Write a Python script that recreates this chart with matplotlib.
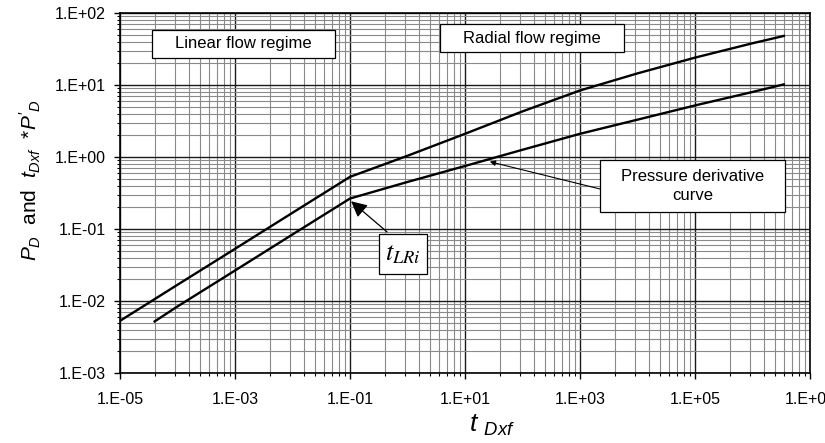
import numpy as np
import matplotlib
matplotlib.use("Agg")
import matplotlib.pyplot as plt
import matplotlib.ticker as ticker
from matplotlib.patches import Rectangle

plt.rcParams["font.family"] = ["Liberation Sans", "DejaVu Sans"]
plt.rcParams["mathtext.fontset"] = "custom"
plt.rcParams["mathtext.it"] = "Liberation Sans:italic"
plt.rcParams["mathtext.rm"] = "Liberation Sans"

# dimensionless pressure P_D vs t_Dxf
t_pd = [1e-5, 1e-4, 1e-3, 1e-2, 0.1, 1, 10, 100, 1e3, 1e4, 1e5, 1e6, 3.5e6]
pd = [0.0053, 0.0168, 0.053, 0.168, 0.53, 1.04, 2.1, 4.3, 8.4, 14.5, 24, 38, 48]

# pressure derivative t_Dxf * P'_D
t_der = [4e-5, 1e-4, 1e-3, 1e-2, 0.1, 1, 10, 100, 1e3, 1e4, 1e5, 1e6, 3.5e6]
der = [0.0052, 0.0084, 0.0265, 0.084, 0.265, 0.45, 0.75, 1.26, 2.1, 3.3, 5.2, 8.0, 10.2]

x_ticks = [1e-5, 1e-3, 1e-1, 1e1, 1e3, 1e5, 1e7]
y_ticks = [1e-3, 1e-2, 1e-1, 1e0, 1e1, 1e2]


def excel_fmt(v, pos):
    return f"1.E{int(round(np.log10(v))):+03d}"


fig = plt.figure(figsize=(8.25, 4.43), dpi=100)
ax = fig.add_axes([120 / 825, 1 - 373 / 443, 690 / 825, 360 / 443])
ax.set_xscale("log")
ax.set_yscale("log")
ax.set_xlim(1e-5, 1e7)
ax.set_ylim(1e-3, 1e2)

# excel style minor grid on the x axis (major unit = 2 decades)
x_minor = [b * k ** 2 for b in x_ticks[:-1] for k in range(2, 10)]
ax.xaxis.set_major_locator(ticker.FixedLocator(x_ticks))
ax.xaxis.set_minor_locator(ticker.FixedLocator(x_minor))
ax.yaxis.set_major_locator(ticker.FixedLocator(y_ticks))
ax.yaxis.set_minor_locator(ticker.LogLocator(base=10, subs=np.arange(2, 10), numticks=40))
ax.xaxis.set_major_formatter(ticker.FuncFormatter(excel_fmt))
ax.yaxis.set_major_formatter(ticker.FuncFormatter(excel_fmt))
ax.xaxis.set_minor_formatter(ticker.NullFormatter())
ax.yaxis.set_minor_formatter(ticker.NullFormatter())
ax.grid(which="minor", color="#8a8a8a", lw=0.8, zorder=0)
ax.grid(which="major", color="#1a1a1a", lw=1.0, zorder=0)
ax.tick_params(which="major", direction="out", length=4, width=1, labelsize=11.5)
ax.tick_params(axis="x", which="major", pad=10)
ax.tick_params(axis="y", which="major", pad=6)
ax.tick_params(which="minor", direction="out", length=2.5, width=0.8)
for s in ax.spines.values():
    s.set_linewidth(1.2)
    s.set_color("black")

ax.plot(t_pd, pd, color="black", lw=1.7, zorder=3)
ax.plot(t_der, der, color="black", lw=1.7, zorder=3)


def label_box(x0, y0, x1, y1, txt, **kw):
    ax.add_patch(Rectangle((x0, y0), x1 - x0, y1 - y0, transform=ax.transAxes,
                           fc="white", ec="black", lw=0.9, zorder=5))
    ax.text((x0 + x1) / 2, (y0 + y1) / 2, txt, transform=ax.transAxes,
            ha="center", va="center", zorder=6, **kw)


label_box(0.046, 0.875, 0.312, 0.953, "Linear flow regime", fontsize=12)
label_box(0.464, 0.892, 0.730, 0.969, "Radial flow regime", fontsize=12)
label_box(0.696, 0.447, 0.964, 0.592, "Pressure derivative\ncurve", fontsize=12,
          linespacing=1.3)
label_box(0.375, 0.275, 0.445, 0.386, r"$t_{LRi}$", fontsize=19, math_fontfamily="stix")

ax.annotate("", xy=(27, 0.86), xytext=(0.696, 0.511), textcoords="axes fraction",
            arrowprops=dict(arrowstyle="-|>", color="black", lw=0.8, mutation_scale=8,
                            shrinkA=0, shrinkB=0), zorder=4)
ax.annotate("", xy=(0.1, 0.25), xytext=(0.387, 0.392), textcoords="axes fraction",
            arrowprops=dict(arrowstyle="-|>", color="black", lw=0.9, mutation_scale=24,
                            shrinkA=0, shrinkB=1), zorder=4)

fig.text(492 / 825, 1 - 425 / 443, r"$t$ $_{Dxf}$", fontsize=19, ha="center", va="center")
fig.text(30 / 825, 1 - 180 / 443, r"$P_D$  and  $t_{Dxf}$  $*P'_D$", fontsize=15,
         rotation=90, ha="center", va="center")

fig.savefig("out.png", dpi=100)
